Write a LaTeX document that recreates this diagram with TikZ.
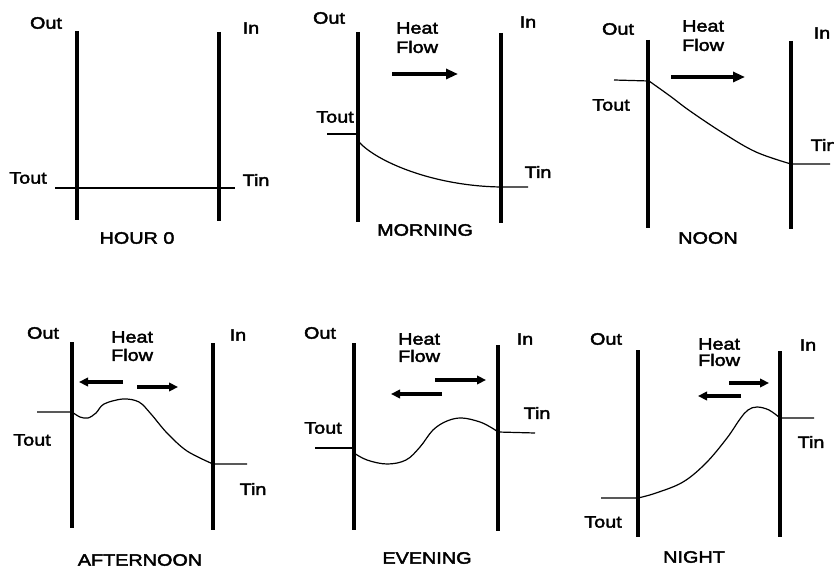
\documentclass[tikz,border=0pt]{standalone}
\usepackage{fontspec}
\setmainfont{Liberation Sans}[FakeStretch=1.2,FakeBold=2.5]
\usetikzlibrary{arrows.meta}
\newcommand{\lab}{\fontsize{16.5}{17}\selectfont}
\begin{document}
\begin{tikzpicture}[x=1pt,y=-1pt,
  wall/.style={line width=4pt},
  temp/.style={line width=1.2pt},
  lbl/.style={font=\lab,inner sep=0pt},
  hf/.style={font=\lab,inner sep=0pt,anchor=west},
  flow/.style={line width=4pt,-{Triangle[length=12pt,width=10pt]}},
  sflow/.style={line width=3.5pt,-{Triangle[length=9pt,width=8.5pt]}}]
\useasboundingbox (0,0) rectangle (834,569);
\clip (0,0) rectangle (834,569);
\fill[white] (0,0) rectangle (834,569);

% ---------- HOUR 0 ----------
\coordinate (a1) at (77,31);  \coordinate (a2) at (77,220);
\coordinate (b1) at (219,32); \coordinate (b2) at (219,221);
\draw[wall] (a1) -- (a2);
\draw[wall] (b1) -- (b2);
\coordinate (h0s) at (55,188); \coordinate (h0e) at (235,188);
\draw[temp] (h0s) -- (h0e);
\node[lbl] (o1) at (46,23) {Out};
\node[lbl] (i1) at (251,28) {In};
\node[lbl] (to1) at (28,178) {Tout};
\node[lbl] (ti1) at (256,180) {Tin};
\node[lbl] (n1) at (137,238) {HOUR 0};

% ---------- MORNING ----------
\coordinate (a1) at (358,32);  \coordinate (a2) at (358,222);
\coordinate (b1) at (501,33);  \coordinate (b2) at (501,223);
\draw[wall] (a1) -- (a2);
\draw[wall] (b1) -- (b2);
\coordinate (m0) at (327,134); \coordinate (m1) at (357,134);
\draw[temp] (m0) -- (m1);
\coordinate (m2) at (359,142); \coordinate (m3) at (501,187); \coordinate (m4) at (528,187);
\draw[temp] (m2) .. controls (376,161) and (432,186) .. (m3) -- (m4);
\coordinate (mf1) at (392,74); \coordinate (mf2) at (458,74);
\draw[flow] (mf1) -- (mf2);
\node[lbl] (o2) at (329,18) {Out};
\node[lbl] (i2) at (528,22) {In};
\node[hf] (h2) at (396,28) {Heat};
\node[hf] (f2) at (396,47) {Flow};
\node[lbl] (to2) at (335,117) {Tout};
\node[lbl] (ti2) at (538,172) {Tin};
\node[lbl] (n2) at (425,230) {MORNING};

% ---------- NOON ----------
\coordinate (a1) at (648,40);  \coordinate (a2) at (648,228);
\coordinate (b1) at (791,41);  \coordinate (b2) at (791,229);
\draw[wall] (a1) -- (a2);
\draw[wall] (b1) -- (b2);
\coordinate (n0) at (614,80); \coordinate (n1) at (649,81);
\coordinate (n5) at (791,164); \coordinate (n6) at (830,164);
\draw[temp] (n0) -- (n1) plot[smooth,tension=0.6] coordinates {(649,81) (670,96) (690,111) (723,133) (756,152) (791,164)} -- (n6);
\coordinate (nf1) at (671,77); \coordinate (nf2) at (745,77);
\draw[flow] (nf1) -- (nf2);
\node[lbl] (o3) at (618,29) {Out};
\node[lbl] (i3) at (822,33) {In};
\node[hf] (h3) at (682,26) {Heat};
\node[hf] (f3) at (682,45) {Flow};
\node[lbl] (to3) at (611,105) {Tout};
\node[lbl] (ti3) at (824,145) {Tin};
\node[lbl] (nn3) at (708,238) {NOON};

% ---------- AFTERNOON ----------
\coordinate (a1) at (72,342);  \coordinate (a2) at (72,528);
\coordinate (b1) at (213,343); \coordinate (b2) at (213,530);
\draw[wall] (a1) -- (a2);
\draw[wall] (b1) -- (b2);
\coordinate (f0) at (37,412); \coordinate (f6) at (247,464);
\draw[temp] (f0) -- (72,412) plot[smooth,tension=0.55] coordinates {(72,412) (80,417) (88,418) (96,413) (104,404) (123,399) (139,402) (151,414) (167,433) (187,451) (213,464)} -- (f6);
\coordinate (fl1) at (123,382); \coordinate (fl2) at (79,382);
\coordinate (fr1) at (137,387); \coordinate (fr2) at (178,387);
\draw[sflow] (fl1) -- (fl2);
\draw[sflow] (fr1) -- (fr2);
\node[lbl] (o4) at (43,333) {Out};
\node[lbl] (i4) at (238,335) {In};
\node[hf] (h4) at (111,337) {Heat};
\node[hf] (f4) at (111,355) {Flow};
\node[lbl] (to4) at (32,440) {Tout};
\node[lbl] (ti4) at (253,489) {Tin};
\node[lbl] (n4) at (140,560) {AFTERNOON};

% ---------- EVENING ----------
\coordinate (a1) at (354,343); \coordinate (a2) at (354,530);
\coordinate (b1) at (498,345); \coordinate (b2) at (498,531);
\draw[wall] (a1) -- (a2);
\draw[wall] (b1) -- (b2);
\coordinate (e0) at (315,448); \coordinate (e6) at (535,433);
\draw[temp] (e0) -- (354,448);
\draw[temp] plot[smooth,tension=0.6] coordinates {(354,453) (367,460) (387,464) (406,460) (420,447) (433,430) (447,421) (462,418) (480,422) (492,428) (498,432)} -- (e6);
\coordinate (er1) at (435,380); \coordinate (er2) at (486,380);
\coordinate (el1) at (442,394); \coordinate (el2) at (391,394);
\draw[sflow] (er1) -- (er2);
\draw[sflow] (el1) -- (el2);
\node[lbl] (o5) at (320,333) {Out};
\node[lbl] (i5) at (525,339) {In};
\node[hf] (h5) at (398,339) {Heat};
\node[hf] (f5) at (398,356) {Flow};
\node[lbl] (to5) at (323,428) {Tout};
\node[lbl] (ti5) at (537,413) {Tin};
\node[lbl] (n5) at (427,558) {EVENING};

% ---------- NIGHT ----------
\coordinate (a1) at (638,350); \coordinate (a2) at (638,537);
\coordinate (b1) at (780,351); \coordinate (b2) at (780,537);
\draw[wall] (a1) -- (a2);
\draw[wall] (b1) -- (b2);
\coordinate (g0) at (601,498); \coordinate (g6) at (814,418);
\draw[temp] (g0) -- (638,498) plot[smooth,tension=0.6] coordinates {(638,498) (656,493) (683,482) (706,463) (727,438) (740,419) (748,410) (757,407) (769,410) (780,418)} -- (g6);
\coordinate (gr1) at (729,383); \coordinate (gr2) at (769,383);
\coordinate (gl1) at (741,396); \coordinate (gl2) at (698,396);
\draw[sflow] (gr1) -- (gr2);
\draw[sflow] (gl1) -- (gl2);
\node[lbl] (o6) at (606,339) {Out};
\node[lbl] (i6) at (808,345) {In};
\node[hf] (h6) at (698,344) {Heat};
\node[hf] (f6) at (698,360) {Flow};
\node[lbl] (to6) at (603,522) {Tout};
\node[lbl] (ti6) at (811,442) {Tin};
\node[lbl] (n6) at (694,557) {NIGHT};
\end{tikzpicture}
\end{document}
